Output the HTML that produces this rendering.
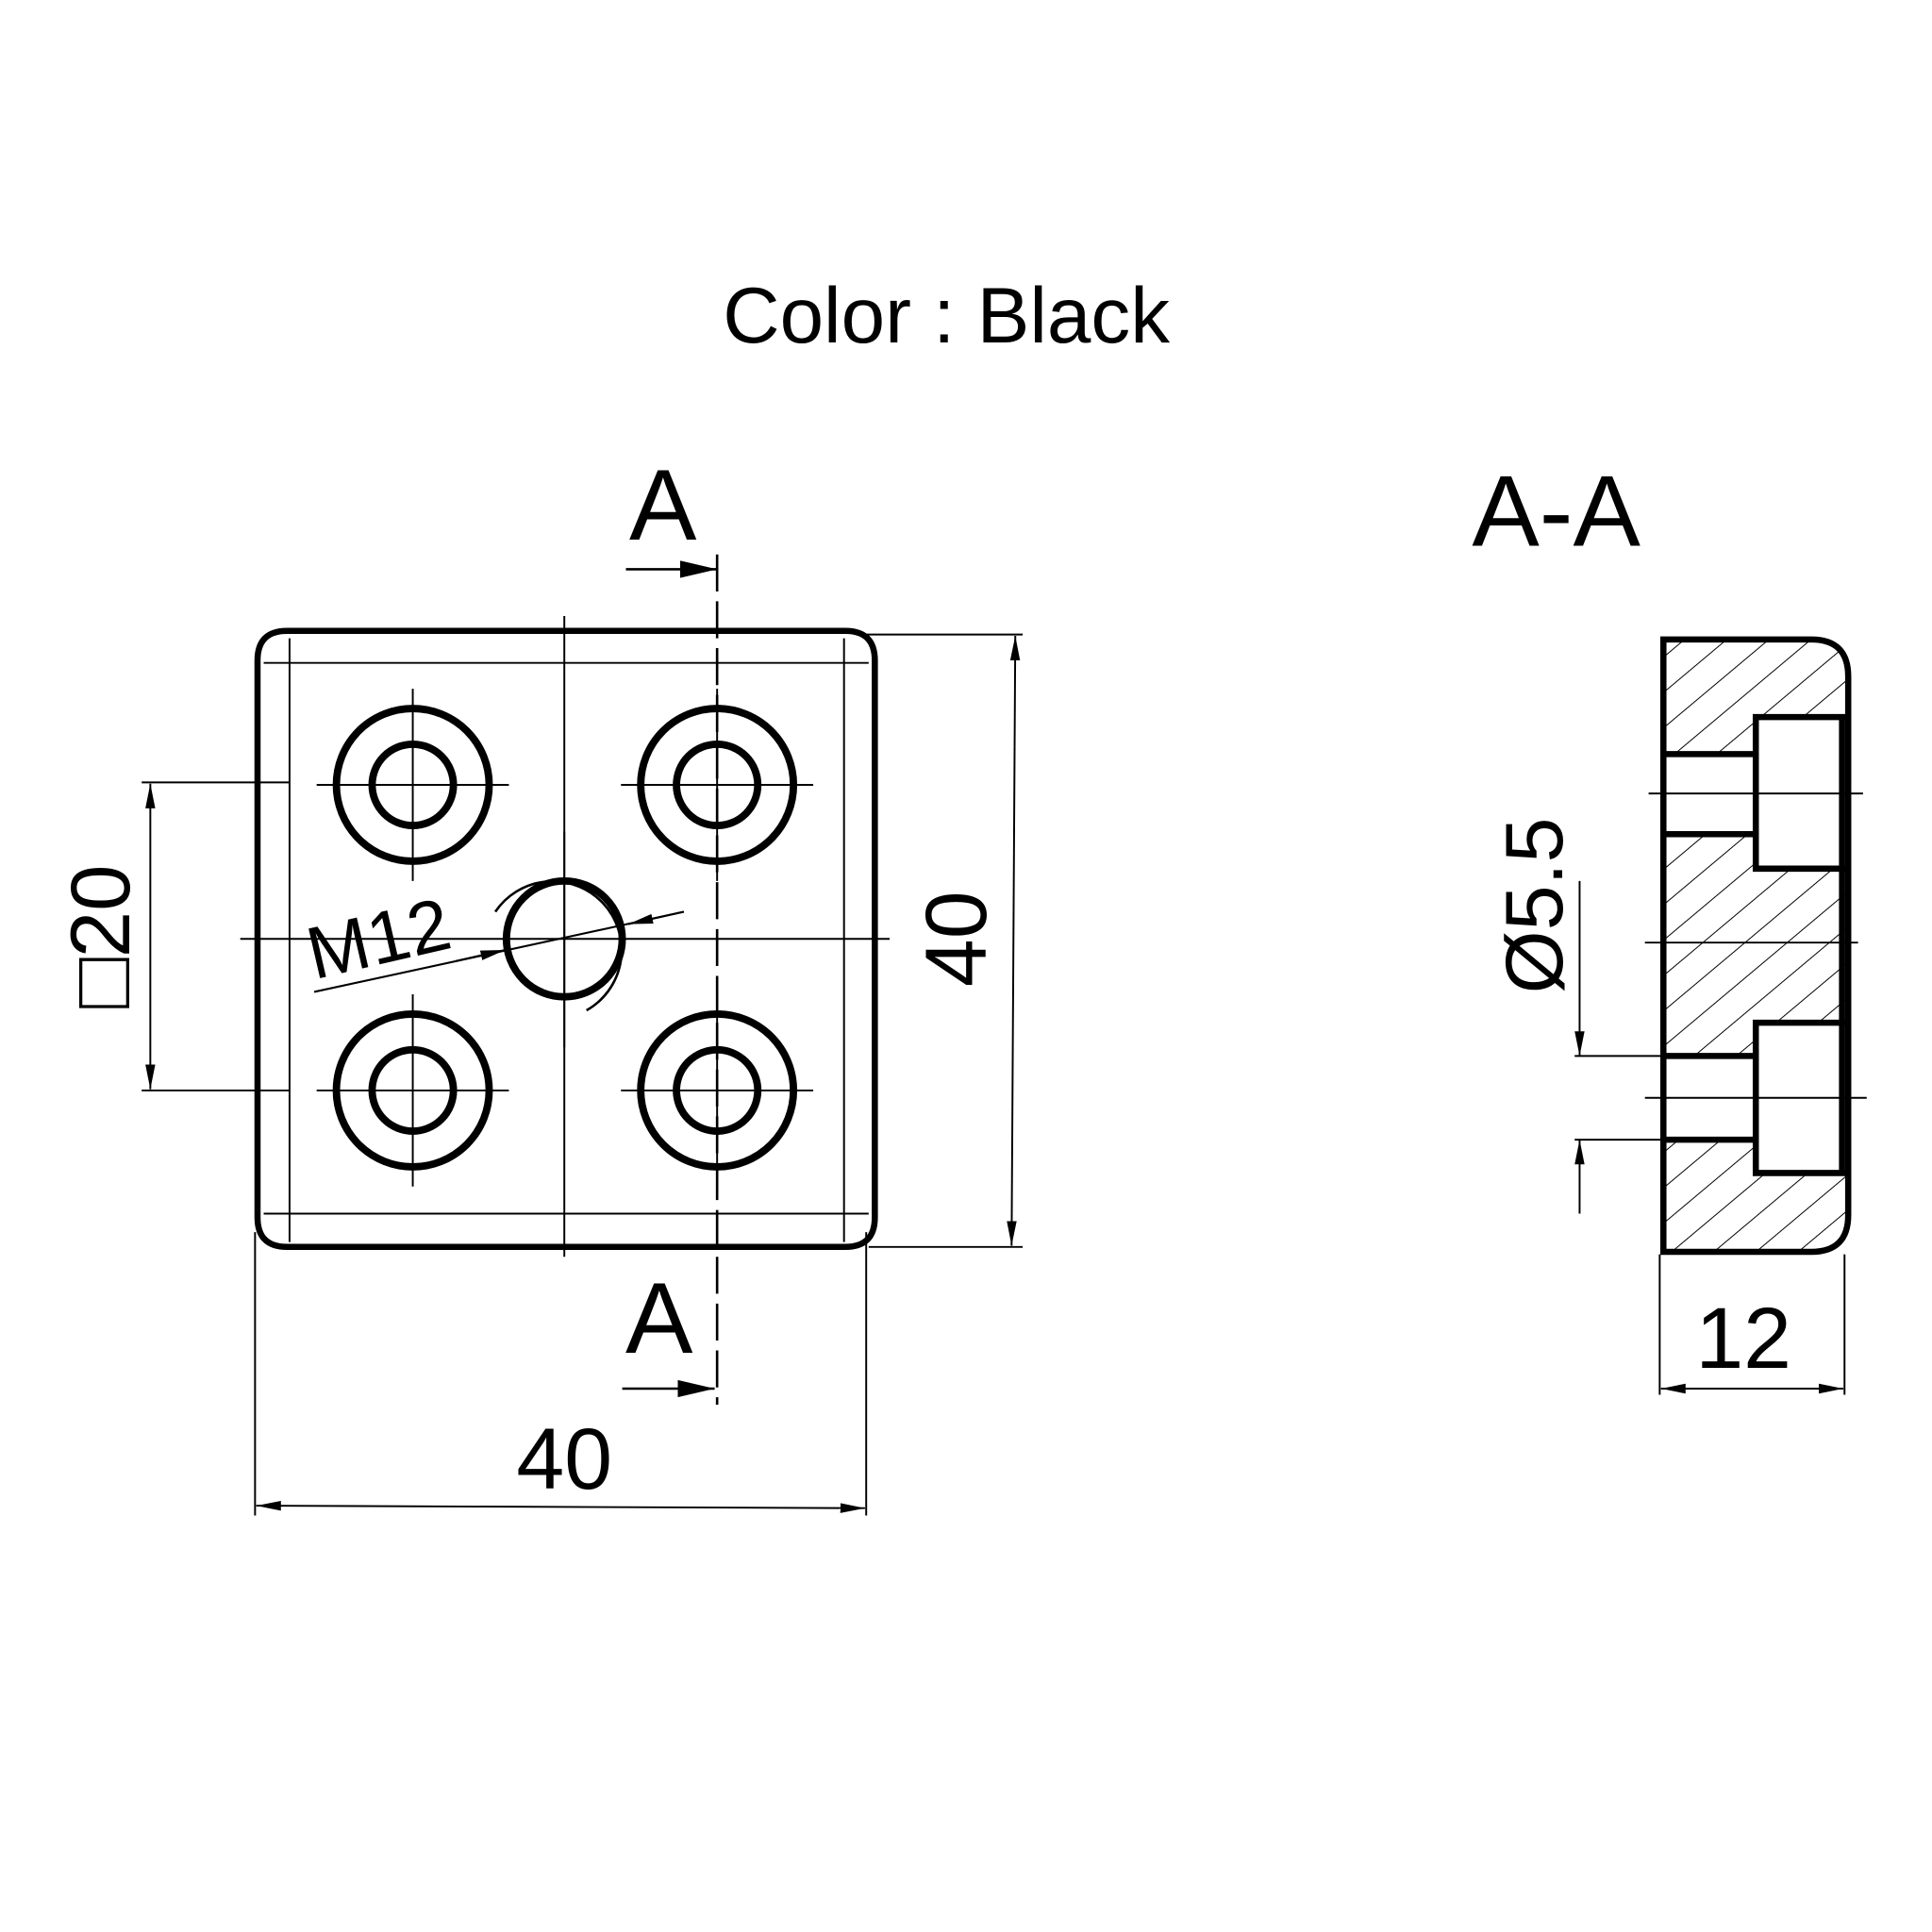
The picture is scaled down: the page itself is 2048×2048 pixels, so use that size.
<!DOCTYPE html>
<html><head><style>html,body{margin:0;padding:0;background:#fff}svg{display:block}</style></head>
<body>
<svg width="2048" height="2048" viewBox="0 0 1568 1568" xmlns="http://www.w3.org/2000/svg" font-family="'Liberation Sans', sans-serif">
<defs>
<marker id="ar" viewBox="0 0 20 10" refX="20" refY="5" markerWidth="20" markerHeight="10" markerUnits="userSpaceOnUse" orient="auto-start-reverse"><path d="M0,1 L20,5 L0,9 Z" fill="#000"/></marker>
<marker id="ar2" viewBox="0 0 30 14" refX="30" refY="7" markerWidth="30" markerHeight="14" markerUnits="userSpaceOnUse" orient="auto"><path d="M0,0 L30,7 L0,14 Z" fill="#000"/></marker>
<pattern id="hatch" patternUnits="userSpaceOnUse" width="20" height="22" patternTransform="rotate(-40)"><line x1="0" y1="0" x2="20" y2="0" stroke="#000" stroke-width="1.6"/></pattern>
<clipPath id="sec"><path d="M1350,519 H1470 Q1500,519 1500,549 V986 Q1500,1016 1470,1016 H1350 Z"/></clipPath>
</defs>
<rect width="1568" height="1568" fill="#fff"/>
<text x="768" y="278" font-size="64" text-anchor="middle" fill="#000">Color : Black</text>

<g fill="none" stroke="#000">
<path d="M233,512 H686 Q710,512 710,536 V988 Q710,1012 686,1012 H233 Q209,1012 209,988 V536 Q209,512 233,512 Z" stroke-width="5"/>
<line x1="235" y1="518" x2="235" y2="1008" stroke-width="1.5"/>
<line x1="685" y1="518" x2="685" y2="1008" stroke-width="1.5"/>
<line x1="214" y1="538" x2="705" y2="538" stroke-width="1.5"/>
<line x1="214" y1="985" x2="705" y2="985" stroke-width="1.5"/>
<line x1="458" y1="500" x2="458" y2="1020" stroke-width="1.5"/>
<line x1="195" y1="762" x2="722" y2="762" stroke-width="1.5"/>
<line x1="582" y1="450" x2="582" y2="1140" stroke-width="2" stroke-dasharray="30,8"/>
<g stroke-width="6">
<circle cx="335" cy="637" r="62"/><circle cx="335" cy="637" r="33"/>
<circle cx="582" cy="637" r="62"/><circle cx="582" cy="637" r="33"/>
<circle cx="335" cy="885" r="62"/><circle cx="335" cy="885" r="33"/>
<circle cx="582" cy="885" r="62"/><circle cx="582" cy="885" r="33"/>
<circle cx="458" cy="762" r="47"/>
</g>
<g stroke-width="1.5">
<line x1="257" y1="637" x2="413" y2="637"/><line x1="335" y1="559" x2="335" y2="715"/>
<line x1="504" y1="637" x2="660" y2="637"/><line x1="582" y1="559" x2="582" y2="715"/>
<line x1="257" y1="885" x2="413" y2="885"/><line x1="335" y1="807" x2="335" y2="963"/>
<line x1="504" y1="885" x2="660" y2="885"/><line x1="582" y1="807" x2="582" y2="963"/>
<line x1="458" y1="675" x2="458" y2="850"/>
<path d="M476,820 A56,56 0 1 0 402,740" stroke-width="2"/>
</g>
<line x1="255" y1="805" x2="555" y2="740" stroke-width="1.6"/>
<line x1="370" y1="780" x2="410" y2="771" stroke-width="1.6" marker-end="url(#ar)"/>
<line x1="555" y1="740" x2="510" y2="750" stroke-width="1.6" marker-end="url(#ar)"/>
<line x1="115" y1="635" x2="235" y2="635" stroke-width="1.5"/>
<line x1="115" y1="885" x2="235" y2="885" stroke-width="1.5"/>
<line x1="122" y1="636" x2="122" y2="884" stroke-width="1.5" marker-start="url(#ar)" marker-end="url(#ar)"/>
<line x1="700" y1="515" x2="830" y2="515" stroke-width="1.5"/>
<line x1="705" y1="1012" x2="830" y2="1012" stroke-width="1.5"/>
<line x1="824" y1="516" x2="821" y2="1011" stroke-width="1.5" marker-start="url(#ar)" marker-end="url(#ar)"/>
<line x1="207" y1="1000" x2="207" y2="1230" stroke-width="1.5"/>
<line x1="703" y1="1000" x2="703" y2="1230" stroke-width="1.5"/>
<line x1="208" y1="1222" x2="702" y2="1224" stroke-width="1.5" marker-start="url(#ar)" marker-end="url(#ar)"/>
<line x1="508" y1="462" x2="582" y2="462" stroke-width="2" marker-end="url(#ar2)"/>
<line x1="505" y1="1127" x2="580" y2="1127" stroke-width="2" marker-end="url(#ar2)"/>
</g>
<text x="538" y="438" font-size="82" text-anchor="middle">A</text>
<text x="535" y="1098" font-size="82" text-anchor="middle">A</text>
<text x="458" y="1208" font-size="70" text-anchor="middle">40</text>
<text transform="translate(800,762) rotate(-90)" font-size="70" text-anchor="middle">40</text>
<text transform="translate(105,760) rotate(-90)" font-size="68" text-anchor="middle">□20</text>
<text transform="translate(255,795) rotate(-13)" font-size="60">M12</text>

<text x="1263" y="443" font-size="82" text-anchor="middle">A-A</text>
<rect x="1350" y="519" width="150" height="497" fill="url(#hatch)" clip-path="url(#sec)"/>
<g fill="#fff" stroke="none">
<rect x="1352" y="612" width="75" height="65"/><rect x="1425" y="582" width="73" height="123"/>
<rect x="1352" y="857" width="75" height="68"/><rect x="1425" y="830" width="73" height="122"/>
</g>
<g fill="none" stroke="#000" stroke-width="5">
<path d="M1350,519 H1470 Q1500,519 1500,549 V986 Q1500,1016 1470,1016 H1350 Z"/>
<path d="M1350,612 H1425 V582 H1498 M1350,677 H1425 V705 H1498 M1425,612 V677"/>
<path d="M1350,857 H1425 V830 H1498 M1350,925 H1425 V952 H1498 M1425,857 V925"/>
<line x1="1495" y1="582" x2="1495" y2="952"/>
</g>
<g stroke="#000" stroke-width="1.5" fill="none">
<line x1="1338" y1="644" x2="1512" y2="644"/>
<line x1="1335" y1="765" x2="1508" y2="765"/>
<line x1="1335" y1="891" x2="1515" y2="891"/>
<line x1="1278" y1="857" x2="1350" y2="857"/>
<line x1="1278" y1="925" x2="1350" y2="925"/>
<line x1="1282" y1="715" x2="1282" y2="857" marker-end="url(#ar)"/>
<line x1="1282" y1="985" x2="1282" y2="925" marker-end="url(#ar)"/>
<line x1="1347" y1="1018" x2="1347" y2="1132"/>
<line x1="1497" y1="1018" x2="1497" y2="1132"/>
<line x1="1348" y1="1127" x2="1496" y2="1127" marker-start="url(#ar)" marker-end="url(#ar)"/>
</g>
<text x="1415" y="1110" font-size="70" text-anchor="middle">12</text>
<text transform="translate(1268,735) rotate(-90)" font-size="66" text-anchor="middle">Ø5.5</text>
</svg>
</body></html>
